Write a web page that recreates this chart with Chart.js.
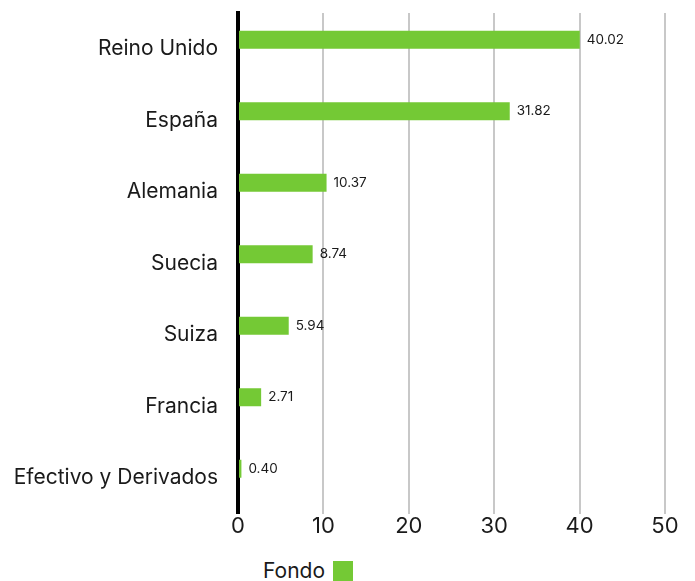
<!DOCTYPE html>
<html>
<head>
<meta charset="utf-8">
<script src="https://cdn.jsdelivr.net/npm/chart.js@4/dist/chart.umd.min.js"></script>
<style>
    body { margin: 0; background: #fff; font-family: Inter, sans-serif; }
    #wrap { position: relative; width: 695px; height: 581px; }
    #chart-box { position: absolute; left: 0; top: 0; width: 695px; height: 540px; }
    #legend { position: absolute; left: 263px; top: 558px; display: flex; align-items: center; font-size: 21px; color: #1a1a1a; }
    #legend .swatch { width: 20px; height: 20px; background: #74c935; margin-left: 8px; }
</style>
</head>
<body>
<div id="wrap">
    <div id="chart-box"><canvas id="fund-chart"></canvas></div>
    <div id="legend"><span>Fondo</span><span class="swatch"></span></div>
</div>
<script>
const countries = ['Reino Unido', 'España', 'Alemania', 'Suecia', 'Suiza', 'Francia', 'Efectivo y Derivados'];
const fundValues = [40.02, 31.82, 10.37, 8.74, 5.94, 2.71, 0.40];
const xTicks = [0, 10, 20, 30, 40, 50];

const GREEN = '#74c935';
const TEXT = '#1a1a1a';

// value labels at the end of each bar
const valueLabels = {
    id: 'valueLabels',
    afterDatasetsDraw(chart) {
        const ctx = chart.ctx;
        const meta = chart.getDatasetMeta(0);
        ctx.save();
        ctx.font = '13.5px Inter, sans-serif';
        ctx.fillStyle = TEXT;
        ctx.textAlign = 'left';
        ctx.textBaseline = 'middle';
        meta.data.forEach((bar, i) => {
            ctx.fillText(fundValues[i].toFixed(2), bar.x + 7, bar.y);
        });
        ctx.restore();
    }
};

new Chart(document.getElementById('fund-chart').getContext('2d'), {
    type: 'bar',
    data: {
        labels: countries,
        datasets: [
            { label: 'Fondo', data: fundValues, backgroundColor: GREEN, borderWidth: 0 },
            // empty companion series: keeps the bar in the upper half of each row
            { label: '', data: [], backgroundColor: 'transparent' }
        ]
    },
    options: {
        indexAxis: 'y',
        responsive: true,
        maintainAspectRatio: false,
        animation: false,
        categoryPercentage: 0.507,
        barPercentage: 1,
        layout: { padding: { top: 13, right: 30, bottom: 0, left: 0 } },
        plugins: {
            legend: { display: false },
            tooltip: { enabled: false }
        },
        scales: {
            x: {
                min: 0,
                max: 50,
                afterBuildTicks(scale) {
                    scale.ticks = xTicks.map(v => ({ value: v }));
                },
                grid: { color: '#c8c8c8', lineWidth: 2, drawTicks: false },
                border: { display: false },
                ticks: { color: TEXT, padding: 0, font: { family: 'Inter, sans-serif', size: 22 } }
            },
            y: {
                afterFit(scale) {
                    scale.width = 238;
                    scale.paddingTop = 0;
                    scale.paddingBottom = 0;
                },
                grid: { display: false, drawTicks: false },
                border: { color: '#000', width: 4 },
                ticks: { color: TEXT, padding: 20, font: { family: 'Inter, sans-serif', size: 21 } }
            }
        }
    },
    plugins: [valueLabels]
});
</script>
</body>
</html>
